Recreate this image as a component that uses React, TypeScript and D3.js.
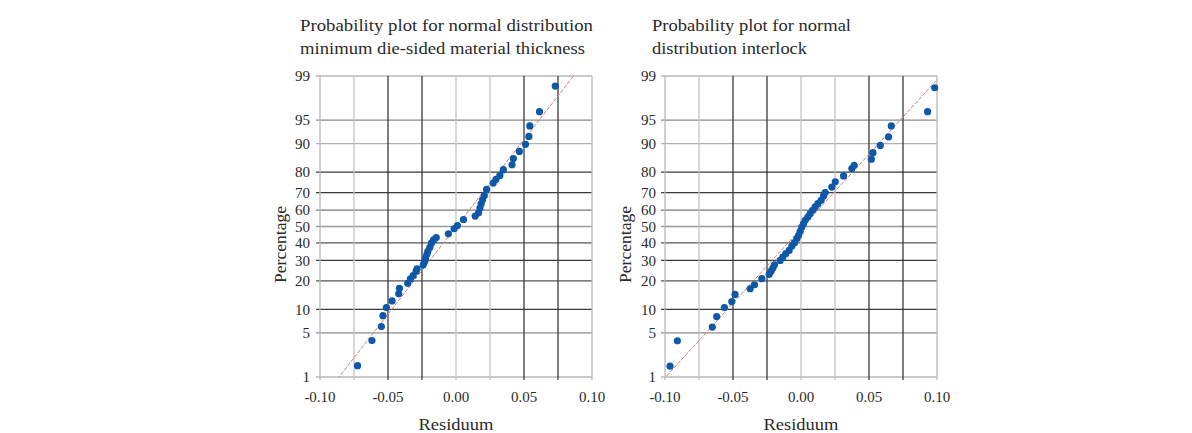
import React from "react";
import * as d3 from "d3";

// ---- data ----
const yTicks = [1, 5, 10, 20, 30, 40, 50, 60, 70, 80, 90, 95, 99];
const xGridTicks = [-0.1, -0.075, -0.05, -0.025, 0, 0.025, 0.05, 0.075, 0.1];
const xLabelTicks = [-0.1, -0.05, 0, 0.05, 0.1];

const leftTitle = ["Probability plot for normal distribution", "minimum die-sided material thickness"];
const rightTitle = ["Probability plot for normal", "distribution interlock"];

const leftResiduals = [
  -0.0724, -0.0618, -0.0549, -0.0537, -0.0512, -0.047, -0.0421, -0.0416, -0.0355, -0.0335,
  -0.0315, -0.0293, -0.0286, -0.0241, -0.0231, -0.0224, -0.0214, -0.0207, -0.0192, -0.018,
  -0.0165, -0.0145, -0.0056, -0.0014, 0.001, 0.0055, 0.0141, 0.0166, 0.0176, 0.0185,
  0.0195, 0.0208, 0.0225, 0.0274, 0.0294, 0.0323, 0.0348, 0.0412, 0.0422, 0.0466,
  0.0511, 0.0536, 0.0543, 0.0614, 0.073,
];
const leftPercent = [
  1.57, 3.9, 6.1, 8.4, 10.5, 12.5, 14.9, 17, 19, 20.9,
  22.4, 24.5, 25.6, 27.7, 29.4, 31.2, 33.4, 35.1, 37.4, 40,
  41.8, 43.2, 45.5, 48.6, 50.6, 54.3, 56.4, 58.4, 61.2, 63.7,
  66, 68.4, 71.7, 74.9, 76.7, 78.5, 81, 83, 85.3, 87.7,
  89.8, 91.8, 94, 96.2, 98.5,
];
const leftFit = { mean: 0.0002, sd: 0.03706 };

const rightResiduals = [
  -0.0963, -0.0909, -0.0652, -0.062, -0.0563, -0.0509, -0.0485, -0.0374, -0.0342, -0.0288,
  -0.0234, -0.022, -0.0207, -0.0195, -0.0153, -0.0134, -0.0112, -0.0087, -0.0067, -0.0048,
  -0.0031, -0.0018, -0.0006, 0.0006, 0.0018, 0.0031, 0.005, 0.0067, 0.0085, 0.0104,
  0.0124, 0.0148, 0.0166, 0.0178, 0.0227, 0.0252, 0.0313, 0.0374, 0.0391, 0.0517,
  0.0529, 0.0583, 0.0644, 0.0664, 0.0931, 0.0983,
];
const rightPercent = [
  1.54, 3.86, 6, 8.2, 10.5, 12.3, 14.7, 16.8, 18.4, 21,
  23, 24.5, 26, 27.7, 30, 31.8, 33.7, 35.6, 38.1, 40.1,
  42.5, 44.6, 47, 49.7, 51.7, 53.8, 55.8, 57.9, 59.9, 61.9,
  63.8, 65.7, 68.2, 70, 72.9, 75.5, 78.3, 81.5, 82.8, 85.1,
  87.3, 89.5, 91.7, 94, 96.2, 98.4,
];
const rightFit = { mean: 0.0015, sd: 0.0434 };

// ---- styles ----
const xGridDark = [false, false, true, true, false, false, true, true, false];
const yGridShade: Record<number, string> = {
  1: "#b8b8b8", 5: "#8a8a8a", 10: "#3a3a3a", 20: "#555", 30: "#3a3a3a", 40: "#555",
  50: "#9a9a9a", 60: "#777", 70: "#3a3a3a", 80: "#3a3a3a", 90: "#b0b0b0", 95: "#8a8a8a", 99: "#b8b8b8",
};
const leftTitleWidths = [293, 285];
const rightTitleWidths = [199, 155];

// inverse normal CDF (Acklam)
function probit(p: number): number {
  const a = [-3.969683028665376e1, 2.209460984245205e2, -2.759285104469687e2, 1.38357751867269e2, -3.066479806614716e1, 2.506628277459239];
  const b = [-5.447609879822406e1, 1.615858368580409e2, -1.556989798598866e2, 6.680131188771972e1, -1.328068155288572e1];
  const c = [-7.784894002430293e-3, -3.223964580411365e-1, -2.400758277161838, -2.549732539343734, 4.374664141464968, 2.938163982698783];
  const d = [7.784695709041462e-3, 3.224671290700398e-1, 2.445134137142996, 3.754408661907416];
  const pl = 0.02425;
  let q, r;
  if (p < pl) {
    q = Math.sqrt(-2 * Math.log(p));
    return (((((c[0] * q + c[1]) * q + c[2]) * q + c[3]) * q + c[4]) * q + c[5]) / ((((d[0] * q + d[1]) * q + d[2]) * q + d[3]) * q + 1);
  } else if (p <= 1 - pl) {
    q = p - 0.5;
    r = q * q;
    return ((((((a[0] * r + a[1]) * r + a[2]) * r + a[3]) * r + a[4]) * r + a[5]) * q) / (((((b[0] * r + b[1]) * r + b[2]) * r + b[3]) * r + b[4]) * r + 1);
  }
  q = Math.sqrt(-2 * Math.log(1 - p));
  return -(((((c[0] * q + c[1]) * q + c[2]) * q + c[3]) * q + c[4]) * q + c[5]) / ((((d[0] * q + d[1]) * q + d[2]) * q + d[3]) * q + 1);
}

const W = 272;
const H = 301;
const FONT = "'Liberation Serif', 'DejaVu Serif', serif";
const TXT = "#2a2a2a";

function fmt(v: number) {
  const s = Math.abs(v).toFixed(2);
  return v < -1e-9 ? "-" + s : s;
}

type PanelProps = {
  left: number;
  top: number;
  title: string[];
  titleWidths: number[];
  titleX: number;
  residuals: number[];
  percent: number[];
  fit: { mean: number; sd: number };
  yLabelX: number;
  id: string;
};

function Panel({ left, top, title, titleWidths, titleX, residuals, percent, fit, yLabelX, id }: PanelProps) {
  const x = d3.scaleLinear().domain([-0.1, 0.1]).range([0, W]);
  const zMin = probit(0.01);
  const zMax = probit(0.99);
  const yz = d3.scaleLinear().domain([zMin, zMax]).range([H, 0]);
  const y = (p: number) => yz(probit(p / 100));

  const fitPts: [number, number][] = [zMin - 0.3, zMax + 0.3].map((z) => [x(fit.mean + fit.sd * z), yz(z)]);
  const line = d3.line<[number, number]>()(fitPts) || "";

  return (
    <g>
      {title.map((t, i) => (
        <text
          key={i}
          x={titleX}
          y={30.5 + i * 23.5}
          fontFamily={FONT}
          fontSize={16.5}
          fill={TXT}
          textLength={titleWidths[i]}
          lengthAdjust="spacingAndGlyphs"
        >
          {t}
        </text>
      ))}
      <g transform={`translate(${left},${top})`}>
        <defs>
          <clipPath id={id}>
            <rect x={0} y={0} width={W} height={H} />
          </clipPath>
        </defs>
        <rect x={0} y={0} width={W} height={H} fill="#fff" />
        {yTicks.map((t) => (
          <line key={"h" + t} x1={-4} x2={W} y1={y(t)} y2={y(t)} stroke={yGridShade[t]} strokeWidth={1.3} />
        ))}
        {xGridTicks.map((t, i) => (
          <line
            key={"v" + i}
            x1={x(t)}
            x2={x(t)}
            y1={0}
            y2={H + 3}
            stroke={i === 0 || i === xGridTicks.length - 1 ? "#b8b8b8" : xGridDark[i] ? "#3a3a3a" : "#c4c4c4"}
            strokeWidth={1.3}
          />
        ))}
        <path d={line} clipPath={`url(#${id})`} stroke="#d27a7a" strokeWidth={1} strokeDasharray="4,1.5" fill="none" />
        {residuals.map((r, i) => (
          <circle key={i} cx={x(r)} cy={y(percent[i])} r={3.6} fill="#0d58a8" />
        ))}
        {yTicks.map((t) => (
          <text key={"yl" + t} x={yLabelX} y={y(t)} dy="0.35em" textAnchor="end" fontFamily={FONT} fontSize={15} fill={TXT}>
            {t}
          </text>
        ))}
        {xLabelTicks.map((t) => (
          <text key={"xl" + t} x={x(t)} y={H + 25} textAnchor="middle" fontFamily={FONT} fontSize={15} fill={TXT}>
            {fmt(t)}
          </text>
        ))}
        <text
          x={W / 2}
          y={H + 53}
          textAnchor="middle"
          fontFamily={FONT}
          fontSize={17}
          fill={TXT}
          textLength={75}
          lengthAdjust="spacingAndGlyphs"
        >
          Residuum
        </text>
        <text
          transform={`translate(${-34},${H / 2 + 18}) rotate(-90)`}
          textAnchor="middle"
          fontFamily={FONT}
          fontSize={17}
          fill={TXT}
          textLength={77}
          lengthAdjust="spacingAndGlyphs"
        >
          Percentage
        </text>
      </g>
    </g>
  );
}

export default function App() {
  return (
    <svg
      width={1192}
      height={433}
      style={{ position: "absolute", left: 0, top: 0, background: "#fff" }}
    >
      <rect width={1192} height={433} fill="#fff" />
      <Panel
        left={320}
        top={76}
        title={leftTitle}
        titleWidths={leftTitleWidths}
        titleX={300}
        residuals={leftResiduals}
        percent={leftPercent}
        fit={leftFit}
        yLabelX={-10}
        id="clipL"
      />
      <Panel
        left={665}
        top={76}
        title={rightTitle}
        titleWidths={rightTitleWidths}
        titleX={652}
        residuals={rightResiduals}
        percent={rightPercent}
        fit={rightFit}
        yLabelX={-9}
        id="clipR"
      />
    </svg>
  );
}
